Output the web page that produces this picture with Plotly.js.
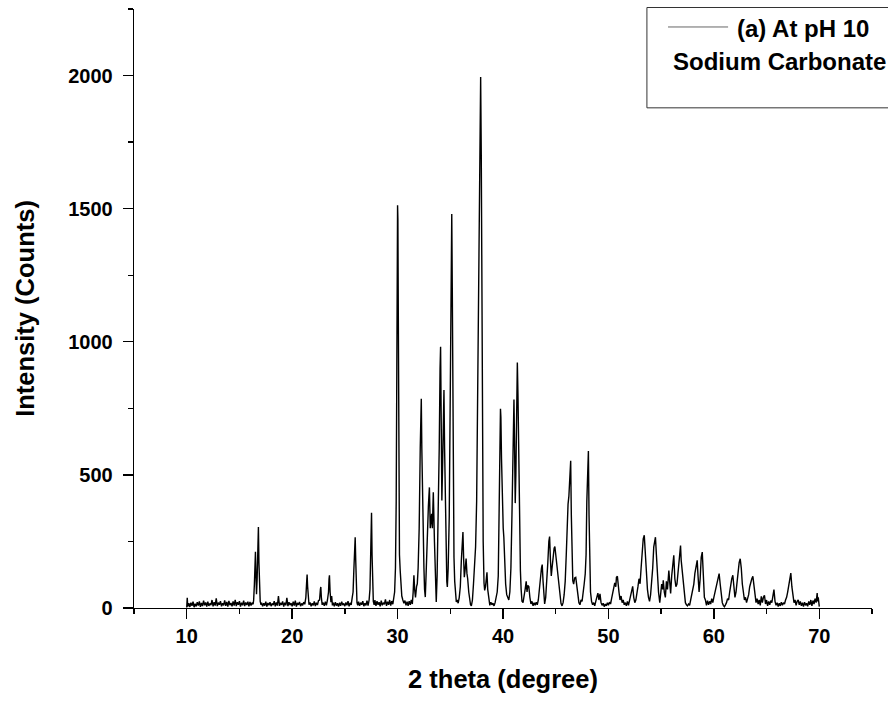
<!DOCTYPE html>
<html>
<head>
<meta charset="utf-8">
<script src="https://cdn.plot.ly/plotly-3.0.1.min.js"></script>
<style>
  html, body { margin: 0; padding: 0; background: #ffffff; }
  #chart { width: 888px; height: 701px; }
</style>
</head>
<body>
<div id="chart"></div>
<script>
// ---- Data: [2theta (deg), intensity (counts)] ----
const seg10to17 = [
  [10.0,2],[10.05,38],[10.1,5],[10.2,18],[10.3,4],[10.4,20],[10.5,8],[10.6,24],[10.7,3],[10.8,16],
  [10.9,6],[11.0,22],[11.1,9],[11.2,25],[11.3,4],[11.4,19],[11.5,7],[11.6,28],[11.7,10],[11.8,21],
  [11.9,5],[12.0,24],[12.1,8],[12.2,17],[12.3,11],[12.4,30],[12.5,6],[12.6,22],[12.7,9],[12.8,36],
  [12.9,7],[13.0,20],[13.1,12],[13.2,26],[13.3,6],[13.4,18],[13.5,10],[13.6,29],[13.7,8],[13.8,23],
  [13.9,5],[14.0,27],[14.1,11],[14.2,19],[14.3,6],[14.4,25],[14.5,9],[14.6,31],[14.7,7],[14.8,22],
  [14.9,12],[15.0,26],[15.1,5],[15.2,20],[15.3,10],[15.4,28],[15.5,7],[15.6,21],[15.7,11],[15.8,24],
  [15.9,6],[16.0,23],[16.1,9],[16.2,20],[16.3,14],
  [16.35,30],[16.42,90],[16.48,180],[16.52,211],[16.57,120],[16.62,52],[16.68,110],[16.74,250],
  [16.8,304],[16.85,170],[16.9,60],[16.97,25],[17.05,12]
];
const seg17to25 = [
  [17.1,20],[17.2,6],[17.3,18],[17.4,9],[17.5,24],[17.6,5],[17.7,19],[17.8,10],[17.9,22],[18.0,7],
  [18.1,17],[18.2,11],[18.3,26],[18.4,6],[18.5,21],[18.6,9],[18.7,45],[18.8,8],[18.9,19],[19.0,12],
  [19.1,25],[19.2,5],[19.3,20],[19.4,10],[19.5,38],[19.6,7],[19.7,22],[19.8,11],[19.9,18],[20.0,6],
  [20.1,24],[20.2,9],[20.3,28],[20.4,5],[20.5,19],[20.6,12],[20.7,23],[20.8,7],[20.9,17],[21.0,10],
  [21.1,22],[21.2,14],
  [21.3,40],[21.38,100],[21.42,126],[21.47,80],[21.53,30],[21.6,12],
  [21.7,21],[21.8,6],[21.9,18],[22.0,10],[22.1,25],[22.2,7],[22.3,20],[22.4,11],[22.5,28],
  [22.6,30],[22.68,70],[22.72,79],[22.77,40],[22.85,12],[22.95,20],[23.05,8],[23.15,24],[23.25,10],[23.35,30],
  [23.45,60],[23.5,110],[23.54,123],[23.6,60],[23.68,22],[23.75,45],[23.82,10],[23.9,20],[24.0,6],
  [24.1,22],[24.2,9],[24.3,18],[24.4,5],[24.5,20],[24.6,8],[24.7,24],[24.8,11],[24.9,17]
];
const seg25to30 = [
  [25.0,7],[25.1,21],[25.2,10],[25.3,26],[25.4,6],[25.5,19],[25.6,12],[25.7,40],
  [25.78,60],[25.85,140],[25.92,240],[25.98,266],[26.03,180],[26.08,60],[26.15,20],[26.22,10],
  [26.3,24],[26.4,8],[26.5,20],[26.6,12],[26.7,26],[26.8,7],[26.9,18],[27.0,10],[27.1,28],[27.2,9],[27.3,30],
  [27.38,70],[27.45,200],[27.5,340],[27.53,358],[27.58,200],[27.63,70],[27.7,25],[27.78,12],[27.85,30],
  [27.95,8],[28.05,26],[28.15,12],[28.25,22],[28.35,6],[28.45,28],[28.55,10],[28.65,20],[28.75,14],
  [28.85,32],[28.95,8],[29.05,24],[29.15,12],[29.25,30],[29.35,9],[29.45,26],[29.55,14],[29.65,35],[29.72,60]
];
const seg30to36 = [
  [29.8,150],[29.87,400],[29.93,900],[29.97,1350],[30.0,1513],[30.03,1460],[30.07,1100],[30.12,500],
  [30.18,200],[30.25,140],[30.32,80],[30.4,45],[30.5,30],[30.6,18],[30.7,28],[30.8,10],[30.9,24],
  [31.0,8],[31.1,26],[31.2,12],[31.3,30],[31.4,15],[31.48,60],[31.55,123],[31.62,70],[31.7,40],
  [31.8,80],[31.87,91],[31.95,150],[32.05,300],[32.15,600],[32.22,760],[32.25,786],[32.3,600],
  [32.34,467],[32.42,300],[32.5,150],[32.56,70],[32.63,41],[32.7,120],[32.77,241],[32.85,320],
  [32.92,380],[32.97,419],[33.02,453],[33.1,300],[33.23,354],[33.3,300],[33.39,435],[33.5,248],
  [33.58,90],[33.67,23],[33.75,120],[33.85,300],[33.95,600],[34.03,900],[34.08,981],[34.14,700],
  [34.2,404],[34.28,550],[34.35,780],[34.4,819],[34.46,600],[34.52,400],[34.6,200],[34.67,100],
  [34.72,79],[34.8,150],[34.9,340],[34.98,700],[35.05,1100],[35.1,1400],[35.14,1480],[35.19,1200],
  [35.25,700],[35.3,350],[35.35,191],[35.42,100],[35.5,50],[35.57,23],[35.65,30],[35.75,18],[35.85,40]
];
const seg36to42 = [
  [35.95,80],[36.05,180],[36.13,260],[36.2,285],[36.27,180],[36.33,116],[36.4,140],[36.5,186],
  [36.58,130],[36.65,110],[36.75,60],[36.85,30],[36.92,12],[37.0,8],[37.1,30],[37.2,90],[37.31,154],
  [37.4,230],[37.5,400],[37.6,800],[37.7,1300],[37.8,1800],[37.88,1995],[37.94,1700],[38.0,1000],
  [38.06,500],[38.12,250],[38.2,94],[38.26,66],[38.34,80],[38.42,104],[38.48,134],[38.55,70],
  [38.65,25],[38.75,10],[38.85,22],[38.95,12],[39.05,18],[39.15,8],[39.25,20],[39.35,35],[39.45,60],
  [39.55,120],[39.62,300],[39.7,600],[39.76,748],[39.8,717],[39.86,560],[39.94,400],[40.02,300],
  [40.08,266],[40.15,180],[40.25,90],[40.35,50],[40.45,40],[40.55,30],[40.65,60],[40.75,150],
  [40.85,350],[40.95,600],[41.04,783],[41.1,600],[41.16,394],[41.22,500],[41.3,800],[41.36,922],
  [41.42,800],[41.5,500],[41.58,250],[41.65,141],[41.72,70],[41.8,25],[41.9,20]
];
const seg42to50 = [
  [42.0,40],[42.1,70],[42.2,100],[42.28,60],[42.35,85],[42.45,81],[42.55,40],[42.65,15],[42.75,25],
  [42.85,8],[42.95,20],[43.05,10],[43.15,22],[43.25,12],[43.35,30],[43.45,60],[43.55,110],[43.65,150],
  [43.72,163],[43.8,100],[43.88,40],[43.95,15],[44.05,40],[44.15,90],[44.25,170],[44.35,250],[44.42,268],
  [44.5,180],[44.58,120],[44.65,150],[44.75,200],[44.85,225],[44.92,231],[45.0,200],[45.1,150],[45.2,128],
  [45.3,80],[45.4,40],[45.5,18],[45.6,8],[45.7,20],[45.8,50],[45.9,100],[46.0,200],[46.1,330],[46.17,390],
  [46.25,420],[46.35,520],[46.42,553],[46.48,350],[46.55,150],[46.62,103],[46.7,90],[46.8,113],[46.9,115],
  [47.0,80],[47.1,40],[47.2,20],[47.3,12],[47.4,30],[47.5,25],[47.6,50],[47.7,90],[47.8,128],[47.88,200],
  [47.95,400],[48.03,550],[48.1,590],[48.16,350],[48.22,150],[48.3,60],[48.4,25],[48.5,12],[48.6,20],
  [48.7,8],[48.8,25],[48.9,40],[49.0,56],[49.1,30],[49.2,53],[49.3,20],[49.4,10],[49.5,18],[49.6,5],
  [49.7,15],[49.8,8],[49.9,20]
];
const seg50to58 = [
  [50.0,10],[50.1,22],[50.2,15],[50.3,35],[50.4,60],[50.5,70],[50.6,94],[50.7,80],[50.76,115],[50.85,119],
  [50.92,70],[51.0,60],[51.1,30],[51.2,45],[51.3,20],[51.4,30],[51.5,12],[51.6,20],[51.7,8],[51.8,25],
  [51.9,10],[52.0,30],[52.1,50],[52.2,70],[52.3,81],[52.4,40],[52.5,20],[52.6,30],[52.7,50],[52.8,80],
  [52.9,110],[53.0,91],[53.1,150],[53.2,230],[53.3,260],[53.4,273],[53.5,200],[53.6,110],[53.7,70],
  [53.8,40],[53.9,25],[54.0,50],[54.1,90],[54.2,150],[54.3,230],[54.4,260],[54.46,266],[54.55,200],
  [54.65,110],[54.75,60],[54.87,20],[54.95,60],[55.05,90],[55.15,70],[55.2,104],[55.3,60],[55.4,40],
  [55.5,100],[55.6,70],[55.73,141],[55.8,80],[55.9,55],[56.0,120],[56.1,180],[56.2,198],[56.3,110],
  [56.4,80],[56.5,90],[56.6,140],[56.75,210],[56.84,235],[56.9,180],[57.0,141],[57.1,80],[57.2,40],
  [57.3,20],[57.4,12],[57.5,8],[57.6,15],[57.7,10],[57.8,30],[57.9,50]
];
const seg58to64 = [
  [58.0,70],[58.1,90],[58.2,130],[58.3,160],[58.42,179],[58.5,120],[58.6,60],[58.7,110],[58.8,190],
  [58.9,210],[59.0,120],[59.1,40],[59.2,30],[59.3,10],[59.4,28],[59.5,12],[59.6,25],[59.7,15],[59.8,35],
  [59.9,20],[60.0,40],[60.1,60],[60.2,80],[60.3,100],[60.4,110],[60.5,129],[60.6,90],[60.7,40],[60.8,20],
  [60.9,10],[61.0,5],[61.1,12],[61.2,20],[61.3,35],[61.4,30],[61.5,60],[61.6,90],[61.7,110],[61.8,123],
  [61.9,90],[62.0,40],[62.1,60],[62.2,100],[62.3,140],[62.4,170],[62.5,185],[62.6,150],[62.7,90],
  [62.8,50],[62.9,30],[63.0,40],[63.1,20],[63.2,35],[63.3,50],[63.4,80],[63.5,100],[63.6,110],[63.7,119],
  [63.8,80],[63.9,40]
];
const seg64to70 = [
  [64.0,20],[64.1,35],[64.2,15],[64.3,30],[64.4,10],[64.5,44],[64.6,20],[64.7,40],[64.8,48],[64.9,15],
  [65.0,30],[65.1,8],[65.2,25],[65.3,12],[65.4,28],[65.5,20],[65.6,50],[65.7,69],[65.8,25],[65.9,10],
  [66.0,20],[66.1,5],[66.2,18],[66.3,8],[66.4,22],[66.5,10],[66.6,20],[66.7,15],[66.8,30],[66.9,40],
  [67.0,60],[67.1,90],[67.2,110],[67.3,131],[67.4,80],[67.5,35],[67.6,20],[67.7,30],[67.8,10],[67.9,25],
  [68.0,30],[68.1,12],[68.2,25],[68.3,8],[68.4,20],[68.5,5],[68.6,22],[68.7,10],[68.8,18],[68.9,6],
  [69.0,25],[69.1,12],[69.2,30],[69.3,8],[69.4,28],[69.5,15],[69.6,35],[69.7,20],[69.8,56],[69.85,25],
  [69.9,40],[70.0,5]
];

const seriesName = "(a) At pH 10";
const legendSubtitle = "Sodium Carbonate";
const xTitle = "2 theta (degree)";
const yTitle = "Intensity (Counts)";
const xTickVals = [10, 20, 30, 40, 50, 60, 70];
const yTickVals = [0, 500, 1000, 1500, 2000];

const allPts = [].concat(seg10to17, seg17to25, seg25to30, seg30to36, seg36to42, seg42to50, seg50to58, seg58to64, seg64to70);
const twoTheta = allPts.map(p => p[0]);
const counts = allPts.map(p => p[1]);

const FONT = "Liberation Sans, Arial, sans-serif";

const trace = {
  x: twoTheta,
  y: counts,
  type: "scatter",
  mode: "lines",
  line: { color: "#000000", width: 1.4 },
  name: seriesName,
  showlegend: false,
  hoverinfo: "x+y"
};

const axisCommon = {
  showline: true,
  linecolor: "#000000",
  linewidth: 1.3,
  mirror: false,
  showgrid: false,
  zeroline: false,
  ticks: "outside",
  ticklen: 10,
  tickwidth: 1.3,
  tickcolor: "#000000",
  tickfont: { family: FONT, size: 20, color: "#000000", weight: "bold" }
};

const layout = {
  width: 888,
  height: 701,
  margin: { l: 134, r: 16, t: 9, b: 93 },
  paper_bgcolor: "#ffffff",
  plot_bgcolor: "#ffffff",
  showlegend: false,
  xaxis: Object.assign({}, axisCommon, {
    range: [5, 75],
    tickvals: xTickVals,
    ticktext: xTickVals.map(String),
    minor: { dtick: 5, tick0: 0, ticks: "outside", ticklen: 5, tickwidth: 1.3, tickcolor: "#000000", showgrid: false },
    title: { text: xTitle, font: { family: FONT, size: 25.5, color: "#000000", weight: "bold" }, standoff: 24 }
  }),
  yaxis: Object.assign({}, axisCommon, {
    range: [0, 2250],
    tickvals: yTickVals,
    ticktext: yTickVals.map(String),
    ticklabelstandoff: 6,
    minor: { dtick: 250, tick0: 0, ticks: "outside", ticklen: 5, tickwidth: 1.3, tickcolor: "#000000", showgrid: false },
    title: { text: yTitle, font: { family: FONT, size: 25.5, color: "#000000", weight: "bold" }, standoff: 26 }
  }),
  shapes: [
    { type: "rect", xref: "paper", yref: "paper", x0: 0.695, x1: 1.03, y0: 0.835, y1: 1.0025,
      line: { color: "#333333", width: 1 }, fillcolor: "rgba(0,0,0,0)", layer: "above" },
    { type: "line", xref: "paper", yref: "paper", x0: 0.7236, x1: 0.805, y0: 0.97, y1: 0.97,
      line: { color: "#666666", width: 1 } }
  ],
  annotations: [
    { xref: "paper", yref: "paper", x: 0.8145, y: 0.968, xanchor: "left", yanchor: "middle", showarrow: false,
      text: seriesName, font: { family: FONT, size: 24, color: "#000000", weight: "bold" } },
    { xref: "paper", yref: "paper", x: 0.7275, y: 0.912, xanchor: "left", yanchor: "middle", showarrow: false,
      text: legendSubtitle, font: { family: FONT, size: 24, color: "#000000", weight: "bold" } }
  ]
};

Plotly.newPlot("chart", [trace], layout, { displayModeBar: false, staticPlot: true });
</script>
</body>
</html>
